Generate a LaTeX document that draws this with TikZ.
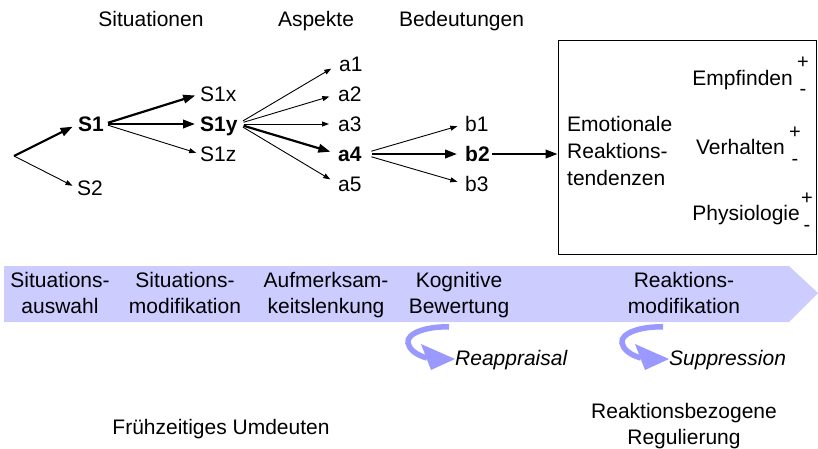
\documentclass[tikz,border=0pt]{standalone}
\usepackage{fontspec}
\setmainfont{Liberation Sans}
\usetikzlibrary{arrows.meta}
\definecolor{bandfill}{RGB}{204,204,255}
\definecolor{swooshcol}{RGB}{153,153,255}
\newcommand{\firstline}{\rule{0pt}{16pt}}

\tikzset{
  swoosh/.pic={
    \draw[swooshcol, line width=5.5pt, line cap=butt]
      (41,0) .. controls (20,-1) and (-2,6) .. (0,16)
             .. controls (1,22) and (8,28) .. (19,31);
    \fill[swooshcol] (13,17) -- (47,32) -- (23,43) -- cycle;
  }
}

\begin{document}
\begin{tikzpicture}[x=1pt, y=-1pt,
  lbl/.style={font=\fontsize{21}{26}\selectfont, inner sep=0pt},
  tn/.style={lbl, anchor=west, text height=15pt, text depth=0pt},
  bn/.style={tn, font=\fontsize{21}{26}\selectfont\bfseries},
  pm/.style={font=\fontsize{20}{20}\selectfont, inner sep=0pt},
  bandlbl/.style={lbl, anchor=north, align=center},
  thinarr/.style={line width=0.9pt, -{Triangle[length=7pt,width=5pt]}},
  thickarr/.style={line width=2.2pt, -{Triangle[length=12pt,width=8.5pt]}},
]
\useasboundingbox (0,0) rectangle (818,448);

% column headings
\node[lbl, anchor=base] (hsit) at (151,26.5) {Situationen};
\node[lbl, anchor=base] (hasp) at (316,26.5) {Aspekte};
\node[lbl, anchor=base] (hbed) at (461.5,26.5) {Bedeutungen};

% situations
\coordinate (root) at (14,156);
\node[bn] (S1) at (78,124) {S1};
\node[tn] (S2) at (77,188) {S2};
\node[tn] (S1x) at (200,94) {S1x};
\node[bn] (S1y) at (200,124) {S1y};
\node[tn] (S1z) at (200,154) {S1z};

% aspects
\node[tn] (a1) at (339,64) {a1};
\node[tn] (a2) at (338,94) {a2};
\node[tn] (a3) at (338,124) {a3};
\node[bn] (a4) at (338,154) {a4};
\node[tn] (a5) at (338,184) {a5};

% meanings
\node[tn] (b1) at (465,124) {b1};
\node[bn] (b2) at (465,154) {b2};
\node[tn] (b3) at (465,184) {b3};

% emotional response box
\node[draw, line width=0.9pt, minimum width=258pt, minimum height=214pt,
      inner sep=0pt] (box) at (687,147) {};
\node[anchor=west, align=left, inner sep=0pt,
      font=\fontsize{21}{27}\selectfont] (ert) at (567,151)
      {Emotionale\\Reaktions-\\tendenzen};

\node[tn, anchor=east] (emp) at (793,78) {Empfinden};
\node[pm] (empP) at (803,63) {+};
\node[pm] (empM) at (803,92) {-};
\node[tn, anchor=east] (ver) at (785,147) {Verhalten};
\node[pm] (verP) at (795,133) {+};
\node[pm] (verM) at (795,162) {-};
\node[tn, anchor=east] (phy) at (800,213) {Physiologie};
\node[pm] (phyP) at (807,199) {+};
\node[pm] (phyM) at (807,228) {-};

% connectors
\draw[thickarr, shorten >=6pt] (root) -- (S1.west);
\draw[thinarr, shorten >=5pt] (root) -- (S2.west);
\draw[thickarr, shorten <=4pt, shorten >=5pt] (S1.east) -- (S1x.west);
\draw[thickarr, shorten <=4pt, shorten >=5pt] (S1.east) -- (S1y.west);
\draw[thinarr, shorten <=4pt, shorten >=4pt] (S1.east) -- (S1z.west);
\foreach \t in {a1,a2,a3,a5}
  \draw[thinarr, shorten <=6pt, shorten >=9pt] (S1y.east) -- (\t.west);
\draw[thickarr, shorten <=6pt, shorten >=8pt] (S1y.east) -- (a4.west);
\draw[thinarr, shorten <=10pt, shorten >=8pt] (a4.east) -- (b1.west);
\draw[thickarr, shorten <=10pt, shorten >=8pt] (a4.east) -- (b2.west);
\draw[thinarr, shorten <=10pt, shorten >=8pt] (a4.east) -- (b3.west);
\draw[thickarr, shorten <=2pt] (b2.east) -- (b2.east -| box.west);

% process band
\fill[bandfill] (4,266) -- (789,266) -- (818,293) -- (789,322) -- (4,322) -- cycle;
\node[bandlbl] (p1) at (60,271) {\firstline Situations-\\auswahl};
\node[bandlbl] (p2) at (185,271) {\firstline Situations-\\modifikation};
\node[bandlbl] (p3) at (326,271) {\firstline Aufmerksam-\\keitslenkung};
\node[bandlbl] (p4) at (459,271) {\firstline Kognitive\\Bewertung};
\node[bandlbl] (p5) at (684,271) {\firstline Reaktions-\\modifikation};

% strategies
\pic at (408,327) {swoosh};
\pic at (622,327) {swoosh};
\node[lbl, anchor=base west, font=\fontsize{21}{26}\selectfont\itshape]
  (reap) at (455,365.5) {Reappraisal};
\node[lbl, anchor=base west, font=\fontsize{21}{26}\selectfont\itshape]
  (supp) at (669,365.5) {Suppression};

% groupings
\node[lbl, anchor=base] (early) at (221,434.5) {Frühzeitiges Umdeuten};
\node[bandlbl] (resp) at (684,402.5) {\firstline Reaktionsbezogene\\Regulierung};
\end{tikzpicture}
\end{document}
